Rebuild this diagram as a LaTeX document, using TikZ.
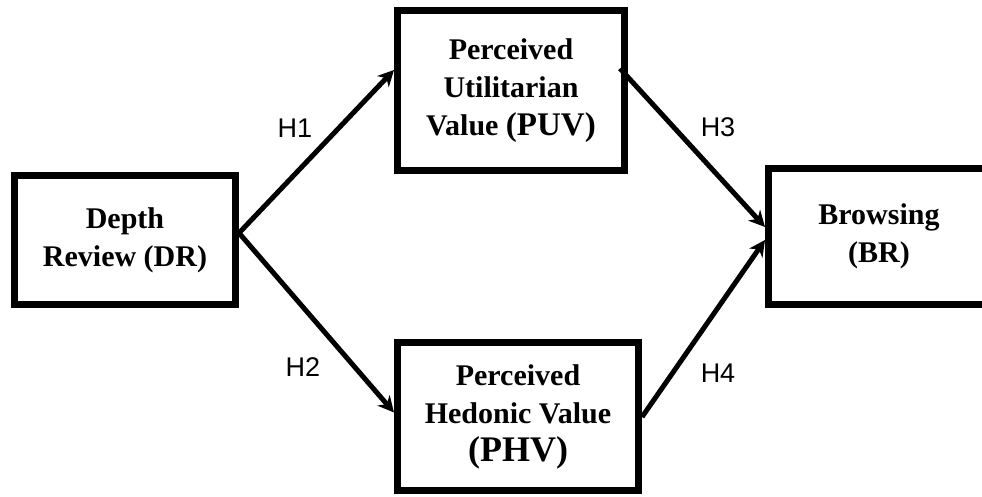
\documentclass[tikz,border=0pt]{standalone}
\usepackage{fontspec}
\setmainfont{Liberation Serif}
\newfontfamily\hlabelfont{Liberation Sans}
\usetikzlibrary{arrows.meta}
\tikzset{
  boxnode/.style={draw=black, line width=7pt, rectangle, fill=white, align=center,
    inner sep=0pt, font=\bfseries\fontsize{30}{38}\selectfont},
  linkarrow/.style={line width=5pt, -{Stealth[length=16pt,width=16pt,inset=5pt]}},
  hlabel/.style={font=\hlabelfont\fontsize{27}{30}\selectfont, inner sep=0pt}
}
\begin{document}
\begin{tikzpicture}[x=1pt,y=1pt]
\useasboundingbox (0,0) rectangle (982,497);
\node[boxnode, minimum width=221pt, minimum height=129pt] (dr) at (125,257) {Depth\\Review (DR)};
\node[boxnode, minimum width=227pt, minimum height=160pt] (puv) at (511,406.5) {Perceived\\Utilitarian\\Value {\fontsize{33}{38}\selectfont(PUV)}};
\node[boxnode, minimum width=241pt, minimum height=148pt] (phv) at (518,80) {Perceived\\Hedonic Value\\{\fontsize{36}{40}\selectfont(PHV)}};
\node[boxnode, minimum width=221pt, minimum height=136pt] (br) at (879,260.5) {Browsing\\(BR)};
\coordinate (h3start) at ([xshift=-8pt,yshift=22pt]puv.east);
\draw[linkarrow] ([yshift=7pt]dr.east) -- ([yshift=20.5pt]puv.west);
\draw[linkarrow] ([yshift=7pt]dr.east) -- ([yshift=4.5pt]phv.west);
\draw[linkarrow] (h3start) -- ([yshift=9.5pt]br.west);
\draw[linkarrow] (phv.east) -- ([yshift=-3.5pt]br.west);
\node[hlabel] (l1) at (295,369) {H1};
\node[hlabel] (l2) at (303,130) {H2};
\node[hlabel] (l3) at (718,370) {H3};
\node[hlabel] (l4) at (718,124) {H4};
\end{tikzpicture}
\end{document}
